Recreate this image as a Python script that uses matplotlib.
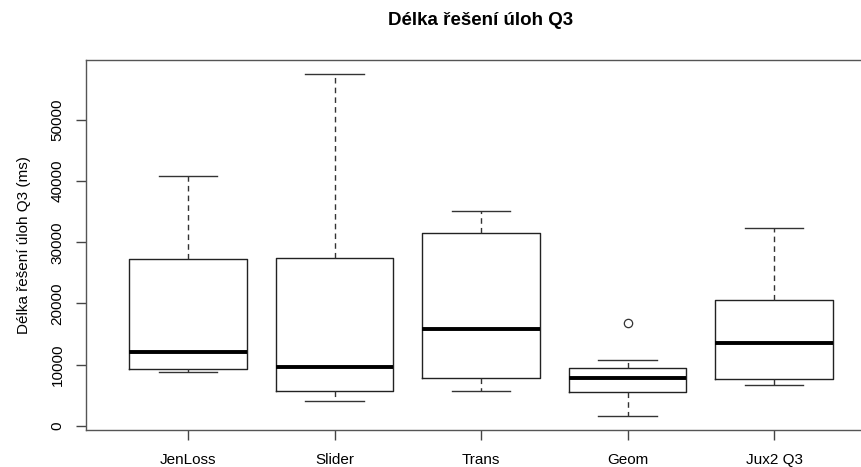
import matplotlib
matplotlib.use("Agg")
import matplotlib.pyplot as plt

# odečtené statistiky krabicových grafů (ms)
labels = ["JenLoss", "Slider", "Trans", "Geom", "Jux2 Q3"]
whislo = [8830, 4090, 5720, 1590, 6660]
q1 = [9270, 5720, 7850, 5510, 7640]
med = [12100, 9650, 15870, 7800, 13580]
q3 = [27265, 27380, 31470, 9390, 20560]
whishi = [40840, 57520, 35120, 10750, 32290]
fliers = [[], [], [], [16750], []]

plt.rcParams["font.family"] = ["Liberation Sans", "DejaVu Sans"]

stats = [dict(label=l, whislo=a, q1=b, med=c, q3=d, whishi=e, fliers=f)
         for l, a, b, c, d, e, f in zip(labels, whislo, q1, med, q3, whishi, fliers)]

fig = plt.figure(figsize=(8.62, 4.67), dpi=100)
ax = fig.add_axes([0.0992, 0.0799, 0.9178, 0.791])

ax.bxp(stats, positions=range(1, 6), widths=0.8, showfliers=True,
       boxprops=dict(color="#222222", linewidth=1.0),
       medianprops=dict(color="black", linewidth=2.8, solid_capstyle="butt"),
       whiskerprops=dict(color="#333333", linewidth=1.0, linestyle=(0, (4, 3))),
       capprops=dict(color="#333333", linewidth=1.0),
       capwidths=0.4,
       flierprops=dict(marker="o", markerfacecolor="none", markeredgecolor="#333333",
                       markersize=6, markeredgewidth=0.9))

ax.set_xlim(0.3, 5.7)
ax.set_ylim(-647, 59757)
ax.set_yticks([0, 10000, 20000, 30000, 40000, 50000])
ax.set_yticklabels(["0", "10000", "20000", "30000", "40000", "50000"],
                   rotation=90, va="center")
ax.tick_params(axis="both", length=7, width=1, color="#444444", labelsize=11)
ax.tick_params(axis="x", pad=10)
ax.tick_params(axis="y", pad=8)
for s in ax.spines.values():
    s.set_color("#555555")
    s.set_linewidth(1.0)

ax.set_ylabel("Délka řešení úloh Q3 (ms)", fontsize=11, labelpad=14)
fig.text(0.558, 0.957, "Délka řešení úloh Q3", fontsize=13.5, fontweight="bold",
         ha="center", va="center")

fig.savefig("out.png", dpi=100)
